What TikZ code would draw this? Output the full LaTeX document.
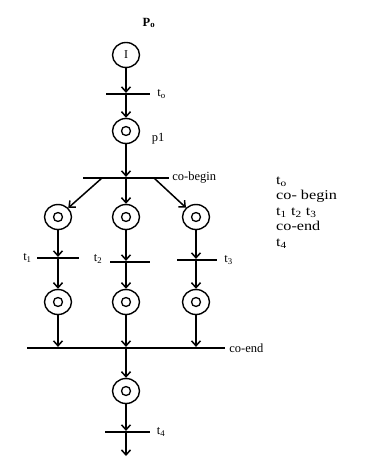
\documentclass[tikz,border=0pt]{standalone}
\usepackage{fontspec}
\setmainfont{Liberation Serif}
\usetikzlibrary{arrows.meta,positioning,shapes.geometric}

\begin{document}
\begin{tikzpicture}[x=1pt,y=-1pt,>={Straight Barb[length=5pt,width=9pt]},
  place/.style={draw,ellipse,line width=1.4pt,minimum width=27pt,minimum height=25pt,inner sep=0pt},
  token/.style={draw,circle,line width=1.3pt,minimum size=9pt,inner sep=0pt},
  bar/.style={fill=black,inner sep=0pt,minimum height=1.8pt},
  arc/.style={->,line width=1.5pt},
  lbl/.style={font=\fontsize{12.5}{13}\selectfont,inner sep=1pt},
  seq/.style={font=\fontsize{13.5}{14}\selectfont,inner sep=0pt,anchor=base west,xscale=1.2}]
  \useasboundingbox (0,0) rectangle (368,457);
  % places
  \node[place] (P0) at (126,55) {\fontsize{12}{12}\selectfont I};
  \node[place] (p1) at (126,131) {};
  \node[place] (A)  at (58,217) {};
  \node[place] (B)  at (126,217) {};
  \node[place] (C)  at (196,217) {};
  \node[place] (D)  at (58,302) {};
  \node[place] (E)  at (126,302) {};
  \node[place] (F)  at (196,302) {};
  \node[place] (G)  at (126,391) {};
  \foreach \p in {p1,A,B,C,D,E,F,G}
    \node[token] at (\p) {};
  % transitions
  \node[bar,minimum width=44pt] (t0)  at (128,94) {};
  \node[bar,minimum width=86pt] (cob) at (126,178) {};
  \node[bar,minimum width=42pt] (t1)  at (58,258) {};
  \node[bar,minimum width=40pt] (t2)  at (130,262) {};
  \node[bar,minimum width=40pt] (t3)  at (197,260) {};
  \node[bar,minimum width=198pt] (coe) at (126,348) {};
  \node[bar,minimum width=45pt] (t4)  at (127,432) {};
  \coordinate (out) at (126,456);
  % arcs
  \draw[arc] (P0) -- (P0 |- t0.north);
  \draw[arc] (P0 |- t0.south) -- (p1);
  \draw[arc] (p1) -- (p1 |- cob.north);
  \draw[arc] ([xshift=-24pt]cob.center) -- (A);
  \draw[arc] (B |- cob.south) -- (B);
  \draw[arc] ([xshift=28pt]cob.center) -- (C);
  \draw[arc] (A) -- (A |- t1.north);
  \draw[arc] (A |- t1.south) -- (D);
  \draw[arc] (B) -- (B |- t2.north);
  \draw[arc] (B |- t2.south) -- (E);
  \draw[arc] (C) -- (C |- t3.north);
  \draw[arc] (C |- t3.south) -- (F);
  \draw[arc] (D) -- (D |- coe.north);
  \draw[arc] (E) -- (E |- coe.north);
  \draw[arc] (F) -- (F |- coe.north);
  \draw[arc] (E |- coe.south) -- (G);
  \draw[arc] (G) -- (G |- t4.north);
  \draw[arc] (G |- t4.south) -- (out);
  % labels
  \node[lbl,font=\bfseries\fontsize{12.5}{13}\selectfont] (lP0) at (149,23) {P\textsubscript{o}};
  \node[lbl,right=6pt of t0] (lt0) {t\textsubscript{o}};
  \node[lbl] (lp1) at (158,139) {p1};
  \node[lbl,right=2pt of cob] (lcob) {co-begin};
  \node[lbl,left=4pt of t1] (lt1) {t\textsubscript{1}};
  \node[lbl] (lt2) at (98,259) {t\textsubscript{2}};
  \node[lbl,right=6pt of t3] (lt3) {t\textsubscript{3}};
  \node[lbl,right=3pt of coe] (lcoe) {co-end};
  \node[lbl,right=6pt of t4] (lt4) {t\textsubscript{4}};
  % sequence list
  \node[seq] (s0) at (276,184) {t\textsubscript{o}};
  \node[seq] (s1) at (276,199) {co- begin};
  \node[seq] (s2) at (276,215) {t\textsubscript{1} t\textsubscript{2} t\textsubscript{3}};
  \node[seq] (s3) at (276,230) {co-end};
  \node[seq] (s4) at (276,246) {t\textsubscript{4}};
\end{tikzpicture}
\end{document}
